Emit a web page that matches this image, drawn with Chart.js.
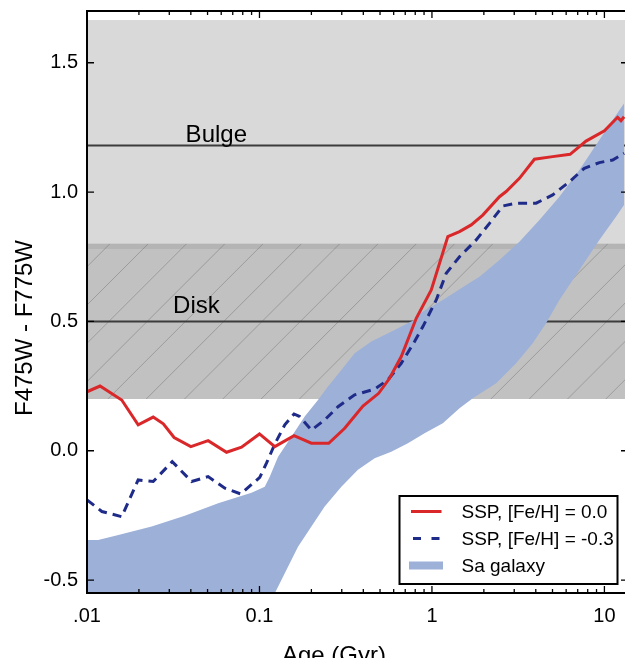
<!DOCTYPE html>
<html>
<head>
<meta charset="utf-8">
<script src="https://cdn.jsdelivr.net/npm/chart.js@4.4.0/dist/chart.umd.min.js"></script>
<style>
  html, body { margin: 0; padding: 0; overflow: hidden; background: #fff; }
  #wrap { width: 632px; height: 658px; }
</style>
</head>
<body>
<div id="wrap"><canvas id="colorChart" width="632" height="658"></canvas></div>
<script>
// datos
const xTicks = [0.01, 0.1, 1, 10];
const xTickLabels = [".01", "0.1", "1", "10"];
const yTicks = [-0.5, 0.0, 0.5, 1.0, 1.5];

const redAge = [0.01, 0.0119, 0.0159, 0.0198, 0.0242, 0.0277, 0.032, 0.04, 0.0504, 0.0644, 0.0787, 0.1, 0.1227, 0.1586, 0.2, 0.252, 0.312, 0.398, 0.491, 0.568, 0.664, 0.811, 0.991, 1.236, 1.445, 1.689, 1.971, 2.463, 2.693, 3.215, 3.928, 5.013, 6.322, 7.826, 10.0, 11.92, 12.47, 13.0];
const redColor = [0.228, 0.250, 0.196, 0.100, 0.130, 0.104, 0.051, 0.016, 0.039, -0.006, 0.014, 0.065, 0.016, 0.058, 0.029, 0.029, 0.087, 0.173, 0.222, 0.280, 0.364, 0.512, 0.622, 0.828, 0.847, 0.873, 0.911, 0.982, 1.002, 1.053, 1.127, 1.137, 1.146, 1.197, 1.237, 1.289, 1.276, 1.291];

const blueAge = [0.01, 0.0122, 0.0159, 0.0198, 0.0242, 0.0312, 0.0404, 0.0504, 0.063, 0.0779, 0.1004, 0.1098, 0.1227, 0.1402, 0.1586, 0.1712, 0.2, 0.2388, 0.2852, 0.3563, 0.4653, 0.5555, 0.664, 0.793, 0.886, 1.059, 1.21, 1.445, 1.805, 2.156, 2.574, 3.076, 4.018, 5.013, 6.264, 7.648, 9.343, 11.16, 13.0];
const blueColor = [-0.190, -0.235, -0.255, -0.113, -0.119, -0.042, -0.119, -0.100, -0.145, -0.167, -0.103, -0.048, 0.026, 0.100, 0.142, 0.132, 0.080, 0.119, 0.170, 0.216, 0.238, 0.274, 0.338, 0.422, 0.480, 0.583, 0.686, 0.750, 0.815, 0.879, 0.946, 0.957, 0.957, 0.989, 1.040, 1.092, 1.114, 1.124, 1.150];

const bandAgeHi = [0.01, 0.0116, 0.0152, 0.0237, 0.0369, 0.0576, 0.0899, 0.1073, 0.1147, 0.1282, 0.1532, 0.1829, 0.2184, 0.2496, 0.2984, 0.3563, 0.4452, 0.6073, 0.793, 0.848, 1.156, 1.58, 1.887, 2.463, 3.215, 4.198, 5.482, 7.156, 9.343, 11.16, 13.0];
const bandHi = [-0.345, -0.345, -0.326, -0.293, -0.251, -0.203, -0.162, -0.139, -0.101, -0.023, 0.054, 0.132, 0.196, 0.248, 0.312, 0.377, 0.422, 0.467, 0.506, 0.531, 0.583, 0.641, 0.673, 0.737, 0.808, 0.892, 0.982, 1.085, 1.201, 1.279, 1.343];

const bandAgeLo = [0.01, 0.1, 0.1227, 0.1402, 0.1673, 0.2, 0.2388, 0.2984, 0.3724, 0.4653, 0.5811, 0.7253, 0.906, 1.156, 1.445, 1.725, 2.357, 3.076, 3.839, 4.589, 5.482, 7.156, 9.343, 11.67, 13.0];
const bandLo = [-0.90, -0.673, -0.551, -0.474, -0.371, -0.293, -0.216, -0.139, -0.074, -0.029, -0.004, 0.029, 0.068, 0.106, 0.164, 0.203, 0.261, 0.338, 0.416, 0.493, 0.583, 0.699, 0.815, 0.905, 0.950];

const bulgeBand = [0.78, 1.665];
const diskBand = [0.2, 0.8];
const bulgeColor = 1.18;
const diskColor = 0.5;
const ageRange = [0.01, 13.7];

const FONT = "'Liberation Sans', Arial, Helvetica, sans-serif";
const pts = (xs, ys) => xs.map((v, i) => ({ x: v, y: ys[i] }));

// bandas grises, rayado, marco, ticks, textos y leyenda
const decorPlugin = {
  id: "decor",
  beforeDatasetsDraw(chart) {
    const { ctx, chartArea: a, scales: { y } } = chart;
    ctx.save();
    const yb0 = y.getPixelForValue(bulgeBand[1]), yb1 = y.getPixelForValue(bulgeBand[0]);
    ctx.fillStyle = "#d9d9d9";
    ctx.fillRect(a.left, yb0, a.width, yb1 - yb0);
    const yd0 = y.getPixelForValue(diskBand[1]), yd1 = y.getPixelForValue(diskBand[0]);
    ctx.fillStyle = "#c1c1c1";
    ctx.fillRect(a.left, yd0, a.width, yd1 - yd0);
    ctx.fillStyle = "#b4b4b4";
    ctx.fillRect(a.left, yd0, a.width, yb1 - yd0);
    // rayado
    ctx.beginPath();
    ctx.rect(a.left, yd0, a.width, yd1 - yd0);
    ctx.clip();
    ctx.strokeStyle = "rgba(120,120,120,0.5)";
    ctx.lineWidth = 1;
    const step = 38.3;
    let c = 392 - step * Math.ceil((392 - (a.left + yd0)) / step);
    for (; c < a.right + yd1 + step; c += step) {
      ctx.beginPath();
      ctx.moveTo(c - yd1, yd1);
      ctx.lineTo(c - yd0, yd0);
      ctx.stroke();
    }
    ctx.restore();
  },
  afterDraw(chart) {
    const { ctx, chartArea: a, scales: { x, y } } = chart;
    ctx.save();
    // ticks hacia dentro
    ctx.strokeStyle = "#000";
    ctx.lineWidth = 1.3;
    ctx.beginPath();
    yTicks.forEach((v) => {
      const py = y.getPixelForValue(v);
      ctx.moveTo(a.left, py); ctx.lineTo(a.left + 7, py);
      ctx.moveTo(a.right, py); ctx.lineTo(a.right - 7, py);
    });
    xTicks.forEach((d) => {
      for (let m = 1; m <= 9; m++) {
        const v = m * d;
        if (v < ageRange[0] || v > ageRange[1]) continue;
        const px = x.getPixelForValue(v);
        const len = m === 1 ? 7 : 4;
        ctx.moveTo(px, a.top); ctx.lineTo(px, a.top + len);
        ctx.moveTo(px, a.bottom); ctx.lineTo(px, a.bottom - len);
      }
    });
    ctx.stroke();
    // marco
    ctx.lineWidth = 2;
    ctx.strokeRect(a.left, a.top, a.width, a.height);

    // textos Bulge / Disk
    ctx.fillStyle = "#000";
    ctx.font = "24px " + FONT;
    ctx.textAlign = "center";
    ctx.textBaseline = "alphabetic";
    ctx.fillText("Bulge", x.getPixelForValue(0.0562), y.getPixelForValue(1.194));
    ctx.fillText("Disk", x.getPixelForValue(0.0431), y.getPixelForValue(0.533));

    // titulos de ejes
    ctx.fillText("Age (Gyr)", 334, 663);
    ctx.save();
    ctx.translate(32, 328);
    ctx.rotate(-Math.PI / 2);
    ctx.fillText("F475W - F775W", 0, 0);
    ctx.restore();

    // leyenda
    const bx = 399.5, by = 496, bw = 218, bh = 88;
    ctx.fillStyle = "#fff";
    ctx.fillRect(bx, by, bw, bh);
    ctx.lineWidth = 2;
    ctx.strokeStyle = "#000";
    ctx.strokeRect(bx, by, bw, bh);
    const ds = chart.data.datasets;
    const entries = [ds[5], ds[4], ds[3]];
    entries.forEach((d, i) => {
      const ry = 511.5 + i * 27;
      if (d.fill) {
        ctx.fillStyle = d.backgroundColor;
        ctx.fillRect(409, ry - 4, 34, 8);
      } else {
        ctx.strokeStyle = d.borderColor;
        ctx.lineWidth = d.borderWidth;
        ctx.setLineDash(d.borderDash ? [8, 10.5] : []);
        ctx.beginPath();
        ctx.moveTo(d.borderDash ? 413 : 411, ry);
        ctx.lineTo(441.5, ry);
        ctx.stroke();
        ctx.setLineDash([]);
      }
      ctx.fillStyle = "#000";
      ctx.font = "19px " + FONT;
      ctx.textAlign = "left";
      ctx.textBaseline = "middle";
      ctx.fillText(d.label, 461.5, ry + 1);
    });
    ctx.restore();
  }
};

const ctx = document.getElementById("colorChart").getContext("2d");
new Chart(ctx, {
  type: "line",
  data: {
    datasets: [
      {
        label: "Bulge",
        data: pts(ageRange, [bulgeColor, bulgeColor]),
        borderColor: "#3c3c3c", borderWidth: 2, pointRadius: 0, order: 6
      },
      {
        label: "Disk",
        data: pts(ageRange, [diskColor, diskColor]),
        borderColor: "#3c3c3c", borderWidth: 2, pointRadius: 0, order: 6
      },
      {
        label: "Sa galaxy upper",
        data: pts(bandAgeHi, bandHi),
        borderWidth: 0, borderColor: "rgba(0,0,0,0)", pointRadius: 0, fill: false, order: 4
      },
      {
        label: "Sa galaxy",
        data: pts(bandAgeLo, bandLo),
        borderWidth: 0, borderColor: "rgba(0,0,0,0)", pointRadius: 0,
        fill: "-1", backgroundColor: "#9db0d8", order: 4
      },
      {
        label: "SSP, [Fe/H] = -0.3",
        data: pts(blueAge, blueColor),
        borderColor: "#1f2b88", borderWidth: 3, borderDash: [9, 6],
        pointRadius: 0, fill: false, order: 1
      },
      {
        label: "SSP, [Fe/H] = 0.0",
        data: pts(redAge, redColor),
        borderColor: "#d9272a", borderWidth: 3,
        pointRadius: 0, fill: false, order: 0
      }
    ]
  },
  options: {
    responsive: false,
    animation: false,
    events: [],
    devicePixelRatio: 1,
    layout: { padding: { top: 11, right: 4, left: 0, bottom: 0 } },
    elements: { line: { tension: 0 } },
    plugins: { legend: { display: false }, tooltip: { enabled: false } },
    scales: {
      x: {
        type: "logarithmic",
        min: ageRange[0],
        max: ageRange[1],
        grid: { display: false, drawTicks: false },
        border: { display: false },
        afterBuildTicks: (s) => { s.ticks = xTicks.map((v) => ({ value: v })); },
        afterFit: (s) => { s.height = 65; s.paddingLeft = 0; s.paddingRight = 0; },
        ticks: {
          autoSkip: false, maxRotation: 0, padding: 11, color: "#000",
          font: { family: FONT, size: 20 },
          callback: (v, i) => xTickLabels[i]
        }
      },
      y: {
        min: -0.55,
        max: 1.70,
        grid: { display: false, drawTicks: false },
        border: { display: false },
        afterBuildTicks: (s) => { s.ticks = yTicks.map((v) => ({ value: v })); },
        afterFit: (s) => { s.width = 87; s.paddingTop = 0; s.paddingBottom = 0; },
        ticks: {
          padding: 9, color: "#000",
          font: { family: FONT, size: 20 },
          callback: (v) => v.toFixed(1)
        }
      }
    }
  },
  plugins: [decorPlugin]
});
</script>
</body>
</html>
